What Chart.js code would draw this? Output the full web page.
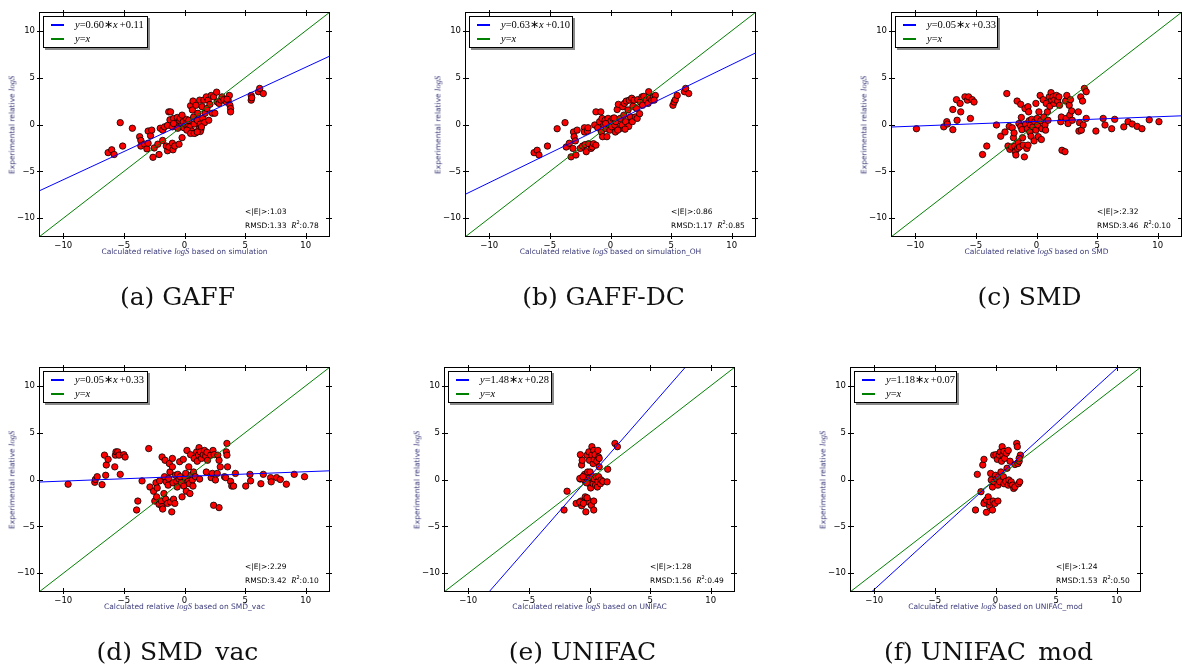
<!DOCTYPE html>
<html>
<head>
<meta charset="utf-8">
<script src="https://cdn.jsdelivr.net/npm/chart.js@4.4.1/dist/chart.umd.min.js"></script>
<style>
  html, body { margin: 0; padding: 0; background: #fff; }
  body { width: 1182px; height: 664px; position: relative; overflow: hidden; font-family: "DejaVu Sans", sans-serif; }
  canvas { position: absolute; }
  .legend { position: absolute; background: #fff; border: 1px solid #000; box-shadow: 2px 2px 0 #8a8a8a; box-sizing: border-box; }
  .legend .row { position: absolute; left: 0; height: 12px; line-height: 12px; font-family: "Liberation Serif", serif; font-size: 10.5px; white-space: nowrap; }
  .legend .swatch { position: absolute; width: 13px; height: 2px; }
  .legend .txt { position: absolute; left: 31px; top: 0; }
  .m { font-family: "Liberation Serif", serif; font-style: italic; }
  .xlab .m, .ylab .m { font-size: 8.5px; }
  .stats .m { font-size: 8.5px; }
  .stats { position: absolute; font-size: 7.5px; line-height: 10px; white-space: nowrap; color: #000; }
  .xlab, .ylab { position: absolute; font-size: 7.5px; line-height: 11px; white-space: nowrap; color: #3c3c7c; text-align: center; }
  .ylab { transform: translate(-50%, -50%) rotate(-90deg); }
  .xlab { transform: translateX(-50%); }
  .caption { position: absolute; font-family: "DejaVu Serif", serif; font-size: 25px; line-height: 32px; white-space: nowrap; transform: translate(-50%, -50%); color: #111; }
</style>
</head>
<body>
<script>
// axis setup shared by all six panels
const axisMin = -12;
const axisMax = 12;
const xTicks = [-10, -5, 0, 5, 10];
const yTicks = [-10, -5, 0, 5, 10];

// (a) GAFF
const gaffPoints = [
  [-6.3, -3.0], [-6.0, -2.7], [-5.8, -3.2], [-5.3, 0.2], [-5.1, -2.3], [-4.3, -0.4],
  [-3.7, -1.3], [-3.6, -1.7], [-3.6, -2.3], [-3.3, -2.1], [-3.1, -2.6], [-3.0, -0.7],
  [-3.0, -2.0], [-2.8, -1.2], [-2.7, -0.6], [-2.6, -3.5], [-2.5, -2.5], [-2.2, -2.1],
  [-2.1, -3.2], [-2.0, -0.4], [-1.8, -0.6], [-1.8, -1.7], [-1.65, -0.25], [-1.5, -2.3],
  [-1.4, -2.8], [-1.4, -0.1], [-1.3, 1.35], [-1.15, 1.35], [-1.3, -2.4], [-1.2, 0.5],
  [-1.0, -0.25], [-1.0, -2.0], [-0.95, -2.7], [-0.9, 0.65], [-0.8, -2.3], [-0.75, 0.1],
  [-0.6, 0.75], [-0.55, -0.4], [-0.45, -2.1], [-0.4, 0.4], [-0.35, 0.65], [-0.2, 0.05],
  [-0.2, -1.4], [-0.1, 0.3], [-0.05, -0.35], [0.1, -0.05], [0.15, 0.55], [0.2, 0.2],
  [0.3, -0.2], [0.35, 0.45], [0.45, -0.25], [0.5, 2.0], [0.6, -0.7], [0.65, 1.55],
  [0.7, 2.5], [0.75, 0.8], [0.8, 0.05], [0.9, -0.9], [0.95, 2.05], [1.05, 0.45],
  [1.1, 1.2], [1.2, -0.45], [1.25, 2.6], [1.3, 0.05], [1.35, -0.55], [1.45, 1.9],
  [1.5, 0.65], [1.6, 2.6], [1.65, 0.2], [1.7, 1.2], [1.8, 2.95], [1.85, 1.7],
  [1.95, 2.6], [2.0, 0.45], [2.1, 2.15], [2.2, 3.1], [2.3, 1.2], [2.4, 2.95],
  [2.5, 1.2], [2.65, 3.45], [2.7, 2.4], [2.85, 2.25], [3.0, 2.6], [3.1, 2.95],
  [3.25, 2.65], [3.45, 2.4], [3.6, 2.6], [3.7, 3.1], [3.75, 2.05], [3.8, 1.7],
  [3.8, 1.35], [3.5, 2.7], [5.5, 2.6], [5.5, 3.1], [5.55, 2.85], [6.1, 3.5],
  [6.2, 3.85], [6.5, 3.3], [0.2, -0.6], [0.5, -0.95], [0.8, -0.95], [1.3, -0.75],
  [-0.9, 0.1], [-0.2, 1.0], [1.05, -0.8], [1.4, -0.25]
];

// (b) GAFF-DC
const gaffDcPoints = [
  [-6.3, -3.0], [-6.05, -2.75], [-5.9, -3.25], [-5.2, -2.3], [-4.4, -0.45], [-3.75, 0.2],
  [-3.65, -2.4], [-3.4, -2.0], [-3.25, -3.45], [-3.1, -2.55], [-3.05, -0.8], [-3.0, -1.3],
  [-2.9, -1.75], [-2.85, -3.25], [-2.75, -0.6], [-2.5, -2.55], [-2.3, -2.3], [-2.15, -0.35],
  [-2.15, -0.8], [-2.1, -2.15], [-2.0, -2.9], [-1.9, -0.7], [-1.85, -0.35], [-1.8, -2.05],
  [-1.6, -2.55], [-1.5, -2.4], [-1.4, -2.05], [-1.3, -0.05], [-1.2, -2.2], [-1.2, 1.35],
  [-0.8, 1.35], [-1.05, -0.35], [-0.9, 0.3], [-0.75, -0.8], [-0.7, 0.65], [-0.65, -1.3],
  [-0.55, -0.05], [-0.45, 0.45], [-0.35, -0.45], [-0.3, -1.3], [-0.2, 0.65], [-0.15, 0.05],
  [-0.05, -0.6], [0.05, 0.4], [0.1, -0.25], [0.2, 0.65], [0.35, -0.05], [0.4, -0.8],
  [0.45, 0.3], [0.55, 1.6], [0.65, 2.15], [0.75, -0.45], [0.8, 0.65], [0.95, -0.05],
  [1.0, 1.9], [1.1, 1.0], [1.15, 2.25], [1.25, 0.3], [1.3, 2.5], [1.45, 1.55],
  [1.5, -0.2], [1.55, 2.6], [1.65, 0.8], [1.75, 2.8], [1.8, 0.3], [1.85, 1.95],
  [1.95, 2.6], [2.05, 0.8], [2.15, 1.7], [2.2, 0.65], [2.25, 2.65], [2.4, 1.15],
  [2.45, 2.4], [2.6, 2.95], [2.65, 2.05], [2.75, 3.0], [2.95, 2.6], [3.1, 2.25],
  [3.15, 3.5], [3.25, 2.8], [3.4, 2.6], [3.55, 2.95], [3.7, 3.1], [3.6, 2.6],
  [5.15, 2.05], [5.25, 2.4], [5.35, 2.65], [5.5, 3.1], [6.1, 3.5], [6.2, 3.85],
  [6.45, 3.3], [0.6, -0.6], [-0.4, 0.1], [1.2, -0.5], [0.3, 0.7]
];

// (c) SMD
const smdPoints = [
  [-9.9, -0.45], [-7.65, -0.25], [-7.4, 0.3], [-7.35, 0.05], [-6.9, 1.6], [-6.9, -0.55],
  [-6.6, 2.65], [-6.55, 0.45], [-6.3, 2.25], [-6.25, 1.35], [-5.9, 2.95], [-5.7, 2.6],
  [-5.6, 2.95], [-5.3, 2.65], [-5.15, 2.4], [-5.45, 0.65], [-4.1, -2.3], [-4.45, -3.2],
  [-3.3, -0.05], [-2.95, -1.25], [-2.6, -0.8], [-2.45, 3.3], [-2.35, -2.3], [-2.25, -0.2],
  [-2.2, -2.65], [-2.05, -2.4], [-2.0, -0.35], [-1.9, -1.4], [-1.85, -0.9], [-1.8, -2.3],
  [-1.75, -2.9], [-1.7, -3.25], [-1.6, 2.5], [-1.55, -2.55], [-1.5, -1.95], [-1.45, 0.1],
  [-1.4, -2.4], [-1.3, 2.15], [-1.3, -0.2], [-1.25, 0.75], [-1.2, -0.55], [-1.15, -1.4],
  [-1.1, -2.2], [-1.0, -3.45], [-0.95, 1.7], [-0.9, 0.05], [-0.8, -2.55], [-0.75, -0.45],
  [-0.7, 1.9], [-0.7, -2.2], [-0.65, 1.35], [-0.6, 0.4], [-0.55, -0.8], [-0.5, -0.05],
  [-0.45, -1.25], [-0.4, 0.55], [-0.3, -0.25], [-0.2, -1.75], [-0.15, 0.3], [-0.05, 2.25],
  [-0.05, -0.6], [0.05, 0.65], [0.1, -0.05], [0.15, -1.3], [0.2, 1.35], [0.3, 3.1],
  [0.35, 0.4], [0.4, -1.6], [0.45, -0.45], [0.55, 2.65], [0.6, 0.8], [0.7, -0.05],
  [0.75, -0.6], [0.8, 2.25], [0.9, 1.35], [0.95, 0.45], [1.05, 2.95], [1.1, 1.95],
  [1.2, 3.4], [1.25, 2.6], [1.35, 2.95], [1.45, 2.25], [1.5, 2.65], [1.65, 3.1],
  [1.75, 2.5], [1.85, 2.95], [1.9, 2.05], [2.0, 0.3], [2.05, 0.8], [2.1, -2.75],
  [2.35, -2.9], [2.4, 2.5], [2.45, 0.65], [2.5, 3.1], [2.6, 0.1], [2.7, 2.05],
  [2.75, 1.0], [2.8, 2.65], [2.9, 1.45], [2.95, 0.45], [3.45, 1.35], [3.5, -0.7],
  [3.55, 0.2], [3.65, 2.95], [3.7, -0.6], [3.8, 2.5], [3.85, -0.05], [3.95, 3.85],
  [4.1, 3.5], [4.1, 0.65], [4.9, -0.7], [5.5, 0.65], [5.65, -0.05], [6.2, -0.45],
  [6.45, 0.55], [7.2, -0.25], [7.55, 0.3], [7.9, 0.05], [8.3, -0.2], [8.7, -0.45],
  [9.3, 0.5], [10.1, 0.3]
];

// (d) SMD_vac
const smdVacPoints = [
  [-9.6, -0.5], [-7.4, -0.3], [-7.35, 0.0], [-7.2, 0.3], [-6.8, -0.55], [-6.6, 2.6],
  [-6.5, 0.45], [-6.45, 1.55], [-6.3, 2.15], [-5.75, 1.35], [-5.7, 2.6], [-5.65, 2.95],
  [-5.5, 2.95], [-5.4, 2.6], [-5.3, 0.55], [-5.0, 2.65], [-4.9, 2.4], [-3.95, -3.25],
  [-3.85, -2.3], [-3.5, -0.15], [-2.95, 3.3], [-2.85, -0.8], [-2.55, -1.25], [-2.45, -2.3],
  [-2.35, -0.35], [-2.3, -1.85], [-2.25, -0.9], [-2.1, -2.65], [-2.05, -0.15], [-1.9, -2.3],
  [-1.85, 2.4], [-1.85, -2.9], [-1.8, -3.15], [-1.7, -1.5], [-1.65, 0.3], [-1.6, 2.05],
  [-1.55, -2.1], [-1.5, -0.25], [-1.4, -2.55], [-1.35, -0.6], [-1.3, 0.1], [-1.25, 1.7],
  [-1.2, 0.8], [-1.15, -2.4], [-1.05, -3.45], [-1.0, 2.25], [-1.0, 1.35], [-0.95, -0.35],
  [-0.9, -2.1], [-0.8, -2.55], [-0.75, 0.45], [-0.65, -0.2], [-0.6, -0.8], [-0.55, 0.55],
  [-0.45, 0.05], [-0.4, 1.9], [-0.35, 0.3], [-0.25, -0.35], [-0.2, -1.85], [-0.1, 2.15],
  [-0.05, -0.7], [0.05, 0.2], [0.1, 0.65], [0.15, -1.25], [0.2, 3.1], [0.3, -0.2],
  [0.35, 1.35], [0.4, -0.45], [0.45, -1.5], [0.5, 2.65], [0.55, 0.45], [0.65, -0.05],
  [0.7, -0.7], [0.75, 0.8], [0.8, 2.25], [0.9, 0.3], [1.0, 2.95], [1.05, 1.95],
  [1.15, 2.6], [1.2, 3.4], [1.25, 0.05], [1.3, 2.95], [1.4, 2.25], [1.55, 2.65],
  [1.65, 3.1], [1.75, 2.5], [1.85, 2.9], [1.8, 0.8], [1.9, 2.05], [2.15, 2.6],
  [2.2, 0.2], [2.3, 0.65], [2.35, 3.1], [2.4, -2.75], [2.45, 2.65], [2.55, -0.05],
  [2.7, 0.65], [2.75, 2.6], [2.85, 2.05], [2.85, -3.0], [2.95, 1.35], [3.3, 0.3],
  [3.4, 0.2], [3.45, 2.95], [3.5, 3.85], [3.5, 2.6], [3.55, 1.35], [3.8, -0.2],
  [3.9, -0.7], [4.05, -0.7], [4.2, 0.65], [5.05, -0.7], [5.4, 0.55], [5.45, -0.15],
  [6.3, -0.45], [6.5, 0.55], [7.1, 0.2], [7.15, -0.25], [7.6, 0.2], [7.9, 0.0],
  [8.4, -0.5], [9.05, 0.55], [9.9, 0.3]
];

// (e) UNIFAC
const unifacPoints = [
  [-2.1, -3.25], [-1.85, -1.25], [-1.1, -2.55], [-0.75, 2.65], [-0.7, -2.3], [-0.65, 1.55],
  [-0.65, -2.8], [-0.6, 2.05], [-0.75, 0.05], [-0.5, -2.4], [-0.4, 0.55], [-0.35, -1.85],
  [-0.35, -0.2], [-0.3, -3.45], [-0.2, 2.6], [-0.15, 0.8], [-0.15, -2.2], [-0.1, 0.1],
  [-0.05, 2.95], [-0.05, -2.4], [0.0, -0.45], [0.0, 2.05], [0.05, 0.8], [0.1, -0.9],
  [0.15, -2.75], [0.2, 3.5], [0.2, 2.6], [0.25, 0.3], [0.3, 1.7], [0.3, -0.45],
  [0.35, 3.1], [0.35, -2.3], [0.35, -3.25], [0.4, 2.15], [0.4, 0.05], [0.45, 2.65],
  [0.5, -0.6], [0.55, 0.3], [0.6, 1.95], [0.65, -0.8], [0.7, 3.1], [0.7, -0.25],
  [0.75, 2.4], [0.75, 0.3], [0.8, 1.35], [0.8, 2.25], [0.9, -0.45], [0.95, -0.05],
  [1.1, -0.2], [1.45, -0.25], [1.5, 1.1], [2.1, 3.85], [2.3, 3.5], [-0.8, 0.1],
  [-0.4, -0.05], [-0.55, 0.3], [-0.25, -0.35], [-0.8, -2.4], [-0.2, -1.95], [-0.5, -2.55]
];

// (f) UNIFAC_mod
const unifacModPoints = [
  [-1.65, -3.25], [-1.5, 0.55], [-1.2, -1.3], [-1.05, 1.55], [-0.95, 2.15], [-0.75, -3.5],
  [-0.9, -2.4], [-0.95, -2.55], [-0.75, -2.2], [-0.6, -1.85], [-0.5, -2.8], [-0.45, -2.4],
  [-0.4, 0.65], [-0.35, -0.05], [-0.25, -0.8], [-0.25, -3.25], [-0.2, -2.3], [-0.15, 2.6],
  [-0.1, -0.25], [-0.05, -2.55], [0.0, 0.45], [0.05, 2.65], [0.1, 0.05], [0.15, 2.15],
  [0.2, -0.6], [0.2, -2.3], [0.25, 0.3], [0.3, 2.6], [0.35, -0.25], [0.4, 2.95],
  [0.45, 0.8], [0.5, 1.95], [0.55, 3.5], [0.6, 2.6], [0.65, 0.3], [0.7, 3.0],
  [0.7, -0.45], [0.75, 2.25], [0.85, -0.2], [0.9, 2.8], [0.95, 1.2], [1.05, 3.1],
  [1.05, -0.6], [1.1, -0.05], [1.2, 1.95], [1.25, -0.45], [1.3, -0.25], [1.4, -0.6],
  [1.5, -0.95], [1.6, -0.8], [1.6, 1.6], [1.75, 3.85], [1.8, 3.5], [1.85, 1.7],
  [1.9, -0.45], [1.95, 1.95], [2.0, -0.25], [2.05, 2.6], [1.95, 2.25]
];

const fitSlopes = [0.60, 0.63, 0.05, 0.05, 1.48, 1.18];
const fitIntercepts = [0.11, 0.10, 0.33, 0.33, 0.28, 0.07];
const meanAbsErr = ["1.03", "0.86", "2.32", "2.29", "1.28", "1.24"];
const rmsdValues = ["1.33", "1.17", "3.46", "3.42", "1.56", "1.53"];
const r2Values = ["0.78", "0.85", "0.10", "0.10", "0.49", "0.50"];
const methodNames = ["simulation", "simulation_OH", "SMD", "SMD_vac", "UNIFAC", "UNIFAC_mod"];
const captions = ["(a) GAFF", "(b) GAFF-DC", "(c) SMD", "(d) SMD_vac", "(e) UNIFAC", "(f) UNIFAC_mod"];
const panelPoints = [gaffPoints, gaffDcPoints, smdPoints, smdVacPoints, unifacPoints, unifacModPoints];

// layout (plot area corners in page pixels)
const plotLeft = [39, 465, 891, 39, 444, 850];
const plotTop = [12, 12, 12, 367, 367, 367];
const plotW = 291;
const plotH = 225;
const legendW = [105, 104, 103, 105, 104, 103];
const captionY = [297, 297, 297, 652, 652, 652];

const frameTicks = {
  id: "frameTicks",
  afterDatasetsDraw(chart) {
    const { ctx, chartArea: a, scales: { x, y } } = chart;
    ctx.save();
    ctx.strokeStyle = "#000";
    ctx.lineWidth = 1;
    ctx.beginPath();
    xTicks.forEach(v => {
      const px = Math.round(x.getPixelForValue(v)) + 0.5;
      ctx.moveTo(px, a.bottom + 2);
      ctx.lineTo(px, a.bottom - 4);
      ctx.moveTo(px, a.top - 2);
      ctx.lineTo(px, a.top + 4);
    });
    yTicks.forEach(v => {
      const py = Math.round(y.getPixelForValue(v)) + 0.5;
      ctx.moveTo(a.left - 2, py);
      ctx.lineTo(a.left + 4, py);
      ctx.moveTo(a.right + 2, py);
      ctx.lineTo(a.right - 4, py);
    });
    ctx.stroke();
    ctx.strokeRect(a.left + 0.5, a.top + 0.5, a.width - 1, a.height - 1);
    ctx.restore();
  }
};

function minusSign(v) {
  return String(v).replace("-", "\u2212");
}

function addEl(tag, cls, html, style) {
  const el = document.createElement(tag);
  if (cls) el.className = cls;
  if (html) el.innerHTML = html;
  Object.assign(el.style, style || {});
  document.body.appendChild(el);
  return el;
}

function drawPanel(i) {
  const left = plotLeft[i];
  const top = plotTop[i];

  const canvas = document.createElement("canvas");
  canvas.width = plotW + 50;
  canvas.height = plotH + 28;
  canvas.style.left = (left - 40) + "px";
  canvas.style.top = (top - 10) + "px";
  document.body.appendChild(canvas);

  const m = fitSlopes[i];
  const b = fitIntercepts[i];

  new Chart(canvas.getContext("2d"), {
    type: "scatter",
    data: {
      datasets: [
        {
          type: "line",
          data: [{ x: axisMin, y: axisMin }, { x: axisMax, y: axisMax }],
          borderColor: "#008000",
          borderWidth: 1,
          pointRadius: 0
        },
        {
          type: "line",
          data: [{ x: axisMin, y: m * axisMin + b }, { x: axisMax, y: m * axisMax + b }],
          borderColor: "#0000ff",
          borderWidth: 1,
          pointRadius: 0
        },
        {
          data: panelPoints[i].map(p => ({ x: p[0], y: p[1] })),
          pointRadius: 3.2,
          pointBackgroundColor: "#ff0000",
          pointBorderColor: "#000",
          pointBorderWidth: 0.8
        }
      ]
    },
    options: {
      responsive: false,
      animation: false,
      events: [],
      layout: { padding: { top: 10, right: 10, left: 0, bottom: 0 } },
      plugins: { legend: { display: false }, tooltip: { enabled: false } },
      scales: {
        x: {
          type: "linear",
          min: axisMin,
          max: axisMax,
          grid: { display: false, drawTicks: false },
          border: { display: false },
          afterBuildTicks: s => { s.ticks = xTicks.map(v => ({ value: v })); },
          afterFit: s => { s.height = 18; },
          ticks: {
            maxRotation: 0,
            autoSkip: false,
            padding: 4,
            color: "#000",
            font: { family: "DejaVu Sans", size: 8.5 },
            callback: minusSign
          }
        },
        y: {
          type: "linear",
          min: axisMin,
          max: axisMax,
          grid: { display: false, drawTicks: false },
          border: { display: false },
          afterBuildTicks: s => { s.ticks = yTicks.map(v => ({ value: v })); },
          afterFit: s => { s.width = 40; },
          ticks: {
            autoSkip: false,
            padding: 4,
            color: "#000",
            font: { family: "DejaVu Sans", size: 8.5 },
            callback: minusSign
          }
        }
      }
    },
    plugins: [frameTicks]
  });

  // legend box
  const lg = addEl("div", "legend", "", {
    left: (left + 4) + "px", top: (top + 4) + "px",
    width: legendW[i] + "px", height: "32px"
  });
  const rows = [
    ["#0000ff", `<span class="m">y</span>=${m.toFixed(2)}∗<span class="m">x</span>&thinsp;+${b.toFixed(2)}`],
    ["#008000", `<span class="m">y</span>=<span class="m">x</span>`]
  ];
  rows.forEach((r, k) => {
    const row = document.createElement("div");
    row.className = "row";
    row.style.top = (2 + k * 14) + "px";
    row.style.width = "100%";
    row.innerHTML = `<div class="swatch" style="left:7px;top:5px;background-color:${r[0]}"></div><div class="txt">${r[1]}</div>`;
    lg.appendChild(row);
  });

  // stats text
  addEl("div", "stats",
    `&lt;|E|&gt;:${meanAbsErr[i]}<br>RMSD:${rmsdValues[i]}&nbsp;&nbsp;<span class="m">R</span><sup style="font-size:5px">2</sup>:${r2Values[i]}`,
    { left: (left + 206) + "px", top: (top + 195) + "px" });

  // axis titles
  addEl("div", "xlab",
    `Calculated relative <span class="m">logS</span> based on ${methodNames[i]}`,
    { left: (left + plotW / 2) + "px", top: (top + plotH + 9) + "px" });
  addEl("div", "ylab",
    `Experimental relative <span class="m">logS</span>`,
    { left: (left - 27) + "px", top: (top + plotH / 2) + "px" });

  // caption under the panel
  addEl("div", "caption", captions[i],
    { left: (left + plotW / 2 - 7) + "px", top: captionY[i] + "px" });
}

for (let i = 0; i < 6; i++) drawPanel(i);
</script>
</body>
</html>
